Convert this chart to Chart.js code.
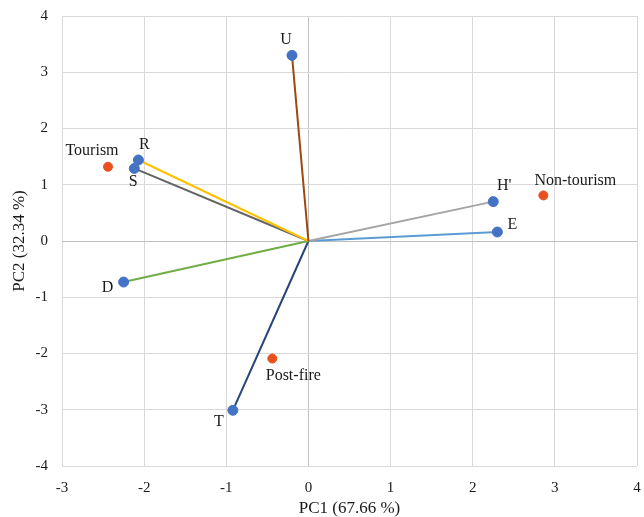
<!DOCTYPE html>
<html>
<head>
<meta charset="utf-8">
<title>PCA biplot</title>
<script src="https://cdn.jsdelivr.net/npm/chart.js@4.4.1/dist/chart.umd.min.js"></script>
<style>
  html, body { margin: 0; padding: 0; background: #fff; }
  canvas { display: block; }
</style>
</head>
<body>
<canvas id="biplot" width="644" height="517"></canvas>
<script>
// variable loadings (arrows from origin)
const vectorLabels = ['U', 'R', 'S', 'D', 'T', "H'", 'E'];
const vectorX = [-0.20, -2.07, -2.12, -2.25, -0.92, 2.25, 2.30];
const vectorY = [3.30, 1.44, 1.29, -0.73, -3.01, 0.70, 0.16];

// group scores
const groupLabels = ['Tourism', 'Post-fire', 'Non-tourism'];
const groupX = [-2.44, -0.44, 2.86];
const groupY = [1.32, -2.09, 0.81];

// axes
const xTickValues = [-3, -2, -1, 0, 1, 2, 3, 4];
const yTickValues = [-4, -3, -2, -1, 0, 1, 2, 3, 4];

// styling
const vectorColors = ['#9E480E', '#FFC000', '#636363', '#70AD47', '#264478', '#A5A5A5', '#5B9BD5'];
const vectorLabelOffsets = [[-6, -16], [6, -15], [-1, 13], [-16, 6], [-14, 11], [11, -16], [15, -7]];
const groupLabelOffsets = [[-16, -16], [21, 17], [32, -15]];
const serif = "'Liberation Serif', 'Times New Roman', serif";

const datasets = [];

datasets.push({
  label: 'groups',
  data: groupX.map((x, i) => ({ x: x, y: groupY[i] })),
  pointLabels: groupLabels,
  labelOffsets: groupLabelOffsets,
  backgroundColor: '#E9501E',
  borderColor: '#E9501E',
  pointRadius: 4.5,
  showLine: false
});

datasets.push({
  label: 'variables',
  data: vectorX.map((x, i) => ({ x: x, y: vectorY[i] })),
  pointLabels: vectorLabels,
  labelOffsets: vectorLabelOffsets,
  backgroundColor: '#4472C4',
  borderColor: '#4472C4',
  pointRadius: 5,
  showLine: false
});

vectorX.forEach((x, i) => {
  datasets.push({
    label: vectorLabels[i] + ' arrow',
    data: [{ x: 0, y: 0 }, { x: x, y: vectorY[i] }],
    borderColor: vectorColors[i],
    borderWidth: 2,
    pointRadius: 0,
    showLine: true,
    fill: false
  });
});

const pointLabelPlugin = {
  id: 'pointLabels',
  afterDatasetsDraw(chart) {
    const ctx = chart.ctx;
    ctx.save();
    ctx.font = '16px ' + serif;
    ctx.fillStyle = '#1a1a1a';
    ctx.textAlign = 'center';
    ctx.textBaseline = 'middle';
    chart.data.datasets.forEach((ds, di) => {
      if (!ds.pointLabels) return;
      const meta = chart.getDatasetMeta(di);
      meta.data.forEach((pt, i) => {
        const off = ds.labelOffsets[i];
        ctx.fillText(ds.pointLabels[i], pt.x + off[0], pt.y + off[1]);
      });
    });
    ctx.restore();
  }
};

const gridColor = (c) => c.tick && c.tick.value === 0 ? '#BFBFBF' : '#D9D9D9';

new Chart(document.getElementById('biplot').getContext('2d'), {
  type: 'scatter',
  data: { datasets: datasets },
  plugins: [pointLabelPlugin],
  options: {
    responsive: false,
    animation: false,
    devicePixelRatio: 1,
    layout: { padding: { left: 0, right: 7, top: 16, bottom: 0 } },
    plugins: {
      legend: { display: false },
      tooltip: { enabled: false }
    },
    scales: {
      x: {
        type: 'linear',
        min: -3,
        max: 4,
        afterBuildTicks: (s) => { s.ticks = xTickValues.map(v => ({ value: v })); },
        afterFit: (s) => {
          s.height = 51;
          s.paddingLeft = 0;
          s.paddingRight = 0;
        },
        grid: { color: gridColor, lineWidth: 1, drawTicks: false },
        border: { display: false },
        ticks: {
          padding: 13,
          color: '#1a1a1a',
          font: { family: serif, size: 15 }
        },
        title: {
          display: true,
          text: 'PC1 (67.66 %)',
          color: '#1a1a1a',
          font: { family: serif, size: 17, lineHeight: 1 },
          padding: { top: 0, bottom: 0 }
        }
      },
      y: {
        type: 'linear',
        min: -4,
        max: 4,
        afterBuildTicks: (s) => { s.ticks = yTickValues.map(v => ({ value: v })); },
        afterFit: (s) => {
          s.width = 62;
          s.paddingTop = 0;
          s.paddingBottom = 0;
        },
        grid: { color: gridColor, lineWidth: 1, drawTicks: false },
        border: { display: false },
        ticks: {
          padding: 14,
          color: '#1a1a1a',
          font: { family: serif, size: 15 }
        },
        title: {
          display: true,
          text: 'PC2 (32.34 %)',
          color: '#1a1a1a',
          font: { family: serif, size: 17, lineHeight: 1 },
          padding: { top: 11, bottom: 0 }
        }
      }
    }
  }
});
</script>
</body>
</html>
